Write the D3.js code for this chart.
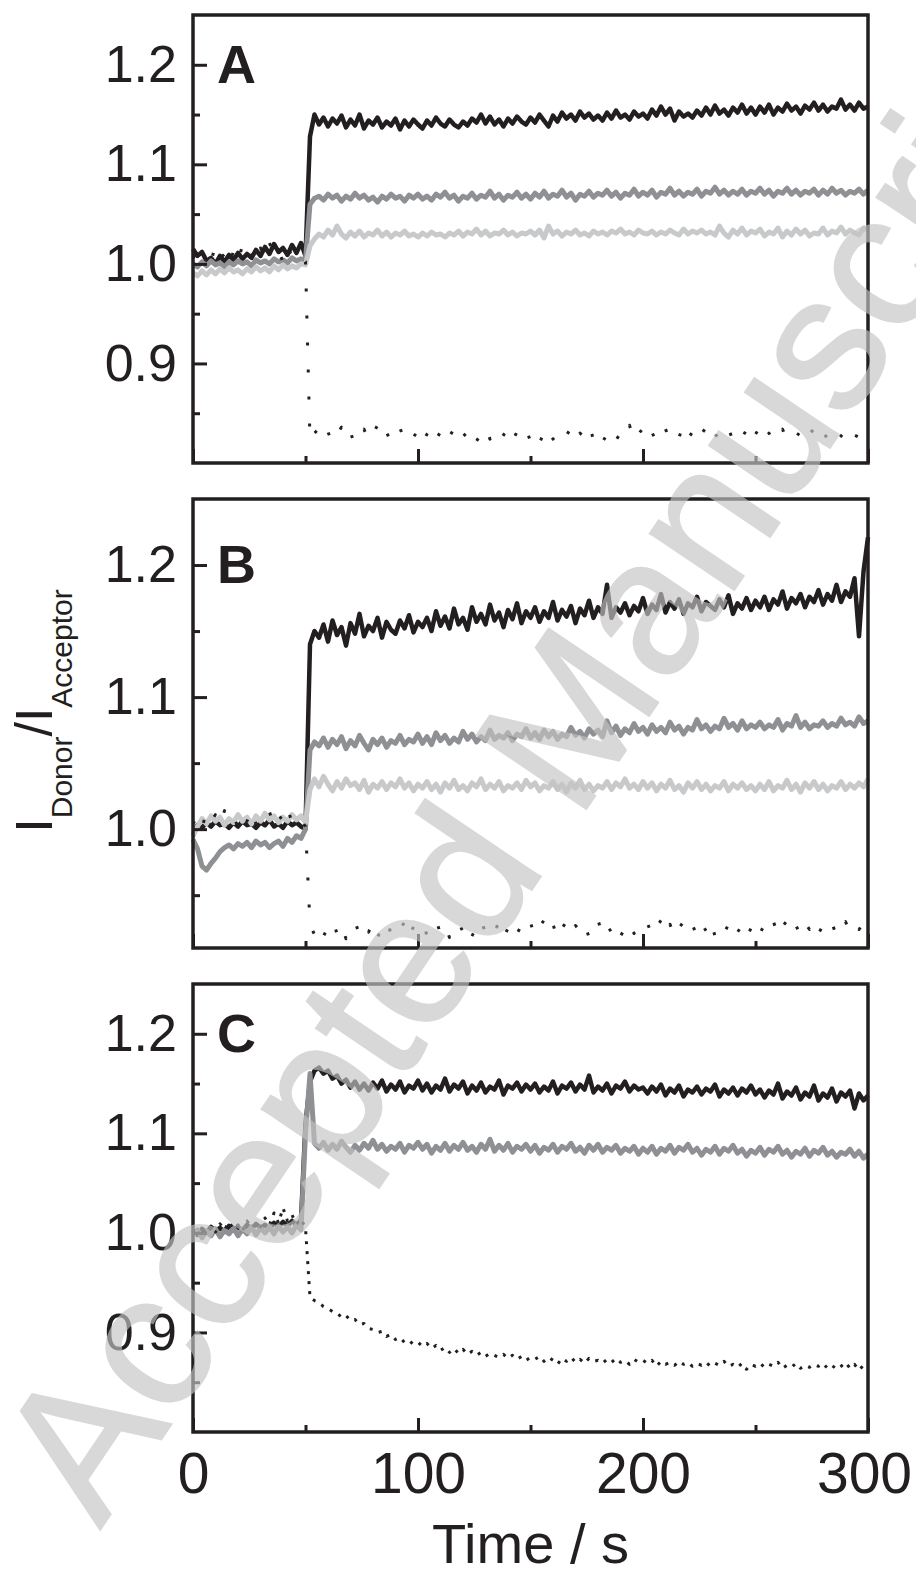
<!doctype html>
<html lang="en">
<head>
<meta charset="utf-8">
<script src="https://d3js.org/d3.v7.min.js"></script>
<title>FRET ratio traces</title>
<style>
  body { margin: 0; background: #fff; }
  svg text { font-family: "Liberation Sans", Arial, Helvetica, sans-serif; fill: #231f20; }
  .tick line { stroke: #231f20; stroke-width: 3; }
</style>
</head>
<body>
<div id="chart"></div>
<script>
// sampling grid, seconds
const time = d3.range(0, 301, 2);

// ---- panel A ----
const blackA = [1.015,1.008,1.012,1.003,1.006,1.000,1.008,1.002,1.009,1.004,1.011,1.005,1.010,1.006,1.014,1.008,1.017,1.010,1.020,1.012,1.016,1.009,1.019,1.011,1.021,
  1.008,1.128,1.150,
  1.140,1.147,1.138,1.146,1.141,1.149,1.137,1.145,1.139,1.150,1.136,1.144,1.140,1.147,1.137,1.143,1.139,1.146,1.135,1.144,1.138,1.145,1.140,
  1.136,1.144,1.139,1.147,1.141,1.138,1.145,1.140,1.137,1.143,1.139,1.146,1.142,1.150,1.141,1.148,1.140,1.145,1.138,1.146,1.141,1.148,1.143,1.140,1.147,
  1.142,1.150,1.144,1.138,1.149,1.143,1.152,1.146,1.150,1.144,1.153,1.147,1.151,1.145,1.149,1.144,1.152,1.146,1.154,1.147,1.150,1.145,1.153,1.148,1.151,
  1.146,1.155,1.149,1.158,1.150,1.156,1.144,1.153,1.148,1.151,1.147,1.154,1.149,1.157,1.150,1.159,1.151,1.155,1.149,1.157,1.152,1.160,1.151,1.157,1.150,
  1.158,1.152,1.160,1.150,1.157,1.153,1.161,1.154,1.158,1.151,1.159,1.155,1.162,1.154,1.160,1.153,1.158,1.156,1.165,1.155,1.160,1.154,1.162,1.156,1.158];
const grayA = [1.000,0.997,1.002,0.998,1.003,0.999,1.001,0.997,1.002,0.999,1.003,1.000,1.002,0.998,1.004,1.001,1.003,1.000,1.005,1.002,1.004,1.001,1.006,1.003,1.005,
  1.004,1.060,1.066,
  1.068,1.064,1.070,1.066,1.069,1.063,1.068,1.065,1.071,1.066,1.069,1.064,1.067,1.062,1.068,1.065,1.070,1.066,1.068,1.063,1.069,1.066,1.070,
  1.065,1.068,1.064,1.070,1.067,1.072,1.066,1.069,1.063,1.068,1.066,1.071,1.065,1.069,1.067,1.073,1.066,1.070,1.064,1.069,1.067,1.072,1.066,1.070,1.065,
  1.071,1.067,1.073,1.066,1.070,1.068,1.074,1.067,1.071,1.064,1.070,1.068,1.073,1.067,1.071,1.069,1.074,1.068,1.072,1.066,1.071,1.069,1.075,1.068,1.072,
  1.069,1.074,1.067,1.072,1.070,1.076,1.069,1.073,1.068,1.072,1.070,1.075,1.068,1.073,1.071,1.077,1.070,1.074,1.069,1.073,1.070,1.075,1.069,1.073,1.071,
  1.076,1.070,1.074,1.068,1.073,1.071,1.076,1.070,1.074,1.069,1.073,1.071,1.075,1.069,1.074,1.070,1.076,1.071,1.074,1.069,1.073,1.071,1.075,1.070,1.074];
const lightA = [0.991,0.988,0.993,0.989,0.994,0.990,0.995,0.991,0.996,0.992,0.994,0.990,0.995,0.992,0.997,0.993,0.996,0.992,0.998,0.994,0.999,0.995,0.998,0.996,1.000,
  0.999,1.018,1.025,
  1.030,1.027,1.034,1.029,1.038,1.030,1.026,1.032,1.028,1.033,1.027,1.031,1.029,1.034,1.028,1.032,1.027,1.031,1.029,1.033,1.028,1.030,1.027,
  1.031,1.028,1.032,1.029,1.030,1.027,1.031,1.029,1.033,1.028,1.032,1.030,1.035,1.029,1.033,1.028,1.031,1.030,1.034,1.029,1.032,1.028,1.031,1.030,1.033,
  1.029,1.034,1.026,1.038,1.030,1.033,1.028,1.032,1.030,1.034,1.029,1.031,1.028,1.033,1.030,1.032,1.029,1.033,1.031,1.035,1.030,1.032,1.029,1.034,1.031,
  1.030,1.033,1.029,1.032,1.030,1.034,1.031,1.029,1.035,1.030,1.033,1.031,1.034,1.030,1.032,1.029,1.038,1.031,1.027,1.034,1.030,1.036,1.029,1.033,1.031,
  1.035,1.028,1.032,1.030,1.036,1.027,1.033,1.029,1.035,1.030,1.034,1.028,1.031,1.030,1.036,1.029,1.033,1.031,1.037,1.030,1.034,1.031,1.029,1.036,1.034];
const dotA = [1.006,1.012,1.000,1.015,1.003,1.018,1.005,1.010,0.998,1.013,1.002,1.019,1.004,1.009,1.001,1.016,1.006,1.021,1.008,1.013,1.002,1.018,1.007,1.012,1.004,
  1.002,0.822,0.830,
  0.835,0.824,0.831,0.820,0.829,0.836,0.823,0.830,0.819,0.828,0.834,0.822,0.829,0.838,0.825,0.831,0.821,0.828,0.835,0.823,0.830,0.826,0.833,
  0.821,0.829,0.836,0.824,0.831,0.820,0.827,0.834,0.823,0.830,0.825,0.833,0.822,0.829,0.836,0.824,0.830,0.821,0.828,0.835,0.823,0.831,0.826,0.834,0.822,
  0.829,0.820,0.831,0.836,0.824,0.830,0.822,0.828,0.835,0.823,0.830,0.826,0.837,0.824,0.831,0.821,0.829,0.834,0.823,0.830,0.825,0.838,0.822,0.829,0.835,
  0.824,0.831,0.820,0.828,0.834,0.823,0.830,0.826,0.837,0.825,0.831,0.821,0.829,0.836,0.824,0.830,0.822,0.828,0.834,0.823,0.831,0.826,0.833,0.821,0.829,
  0.836,0.824,0.830,0.821,0.827,0.834,0.823,0.829,0.826,0.832,0.822,0.828,0.835,0.824,0.830,0.825,0.831,0.822,0.827,0.833,0.823,0.828,0.826,0.830,0.824];

// ---- panel B ----
const blackB = [0.995,1.003,1.001,1.005,1.002,1.006,1.003,1.004,1.001,1.005,1.002,1.006,1.003,1.004,1.001,1.005,1.003,1.007,1.002,1.004,1.001,1.006,1.003,1.005,1.002,
  1.000,1.140,1.150,
  1.145,1.155,1.142,1.158,1.147,1.153,1.139,1.156,1.148,1.163,1.146,1.154,1.150,1.160,1.145,1.157,1.151,1.148,1.158,1.152,1.162,1.149,1.157,
  1.153,1.160,1.150,1.165,1.154,1.161,1.152,1.167,1.155,1.160,1.151,1.168,1.157,1.163,1.155,1.170,1.158,1.164,1.153,1.166,1.159,1.171,1.156,1.165,1.160,
  1.168,1.157,1.165,1.160,1.172,1.158,1.166,1.161,1.169,1.156,1.167,1.162,1.173,1.160,1.168,1.163,1.185,1.160,1.168,1.164,1.171,1.162,1.169,1.165,1.175,
  1.163,1.170,1.166,1.178,1.164,1.172,1.167,1.174,1.163,1.171,1.168,1.176,1.165,1.172,1.169,1.166,1.174,1.168,1.177,1.163,1.171,1.167,1.175,1.166,1.173,
  1.168,1.176,1.166,1.174,1.170,1.180,1.167,1.175,1.171,1.178,1.168,1.176,1.172,1.181,1.170,1.178,1.173,1.185,1.172,1.180,1.176,1.190,1.146,1.195,1.221];
const grayB = [0.992,0.985,0.972,0.969,0.974,0.978,0.983,0.986,0.988,0.985,0.989,0.987,0.990,0.986,0.991,0.988,0.990,0.986,0.989,0.991,0.987,0.993,0.990,0.995,0.993,
  1.000,1.060,1.066,
  1.063,1.069,1.062,1.068,1.064,1.070,1.061,1.067,1.063,1.071,1.065,1.060,1.068,1.064,1.069,1.062,1.067,1.065,1.071,1.064,1.068,1.066,1.072,
  1.065,1.070,1.064,1.073,1.067,1.071,1.065,1.069,1.066,1.074,1.068,1.072,1.066,1.070,1.067,1.075,1.068,1.071,1.069,1.073,1.067,1.072,1.070,1.076,1.069,
  1.073,1.068,1.075,1.070,1.074,1.068,1.072,1.070,1.077,1.071,1.074,1.069,1.076,1.072,1.075,1.070,1.082,1.073,1.078,1.071,1.076,1.073,1.080,1.074,1.077,
  1.072,1.079,1.074,1.077,1.073,1.081,1.075,1.078,1.072,1.077,1.075,1.083,1.076,1.079,1.074,1.078,1.076,1.084,1.077,1.080,1.075,1.082,1.076,1.079,1.077,
  1.081,1.076,1.079,1.077,1.083,1.075,1.080,1.078,1.086,1.077,1.081,1.076,1.079,1.078,1.082,1.077,1.080,1.078,1.084,1.079,1.081,1.078,1.085,1.080,1.082];
const lightB = [0.995,1.002,1.008,1.004,1.010,1.006,1.009,1.003,1.008,1.005,1.011,1.006,1.009,1.004,1.010,1.006,1.012,1.007,1.010,1.005,1.009,1.006,1.011,1.007,1.010,
  1.005,1.030,1.038,
  1.032,1.040,1.034,1.029,1.036,1.031,1.038,1.033,1.035,1.030,1.037,1.028,1.034,1.031,1.036,1.030,1.035,1.032,1.038,1.031,1.035,1.029,1.034,
  1.031,1.036,1.030,1.034,1.028,1.035,1.031,1.037,1.030,1.033,1.029,1.035,1.032,1.038,1.030,1.034,1.031,1.036,1.029,1.033,1.031,1.035,1.030,1.037,1.032,
  1.035,1.029,1.033,1.031,1.036,1.030,1.034,1.028,1.035,1.031,1.037,1.030,1.034,1.029,1.033,1.031,1.036,1.030,1.035,1.032,1.038,1.031,1.034,1.030,1.036,
  1.031,1.035,1.029,1.034,1.031,1.037,1.030,1.033,1.028,1.035,1.031,1.036,1.030,1.034,1.029,1.033,1.031,1.036,1.029,1.034,1.031,1.035,1.030,1.033,1.029,
  1.034,1.030,1.036,1.029,1.033,1.031,1.037,1.030,1.034,1.028,1.035,1.031,1.036,1.030,1.034,1.029,1.033,1.031,1.036,1.030,1.034,1.031,1.035,1.032,1.038];
const dotB = [1.004,1.010,1.001,1.013,1.006,1.011,1.003,1.014,1.005,1.009,1.002,1.012,1.006,1.015,1.004,1.010,1.007,1.013,1.003,1.011,1.006,1.016,1.005,1.010,1.007,
  1.002,0.928,0.920,
  0.927,0.919,0.926,0.931,0.921,0.928,0.917,0.924,0.930,0.920,0.927,0.922,0.929,0.918,0.925,0.931,0.921,0.927,0.923,0.930,0.919,0.926,0.922,
  0.928,0.920,0.926,0.931,0.921,0.927,0.918,0.925,0.930,0.922,0.928,0.919,0.926,0.932,0.921,0.927,0.923,0.929,0.918,0.925,0.930,0.921,0.927,0.922,0.929,
  0.919,0.926,0.931,0.922,0.928,0.917,0.925,0.930,0.921,0.927,0.923,0.929,0.918,0.926,0.931,0.920,0.927,0.922,0.928,0.919,0.925,0.930,0.921,0.927,0.924,
  0.929,0.919,0.926,0.931,0.921,0.928,0.918,0.925,0.930,0.922,0.927,0.920,0.929,0.923,0.931,0.919,0.926,0.921,0.928,0.932,0.922,0.927,0.918,0.925,0.930,
  0.921,0.928,0.923,0.930,0.919,0.926,0.931,0.922,0.927,0.920,0.929,0.924,0.930,0.921,0.927,0.923,0.929,0.919,0.926,0.930,0.922,0.928,0.924,0.929,0.921];

// ---- panel C ----
const blackC = [1.003,0.998,1.004,1.000,1.006,1.002,1.005,1.001,1.007,1.003,1.006,1.002,1.008,1.004,1.009,1.005,1.008,1.004,1.010,1.006,1.011,1.007,1.012,1.008,1.013,
  1.110,1.152,1.163,
  1.166,1.160,1.163,1.155,1.158,1.150,1.154,1.146,1.152,1.144,1.150,1.143,1.151,1.145,1.153,1.142,1.149,1.144,1.152,1.141,1.148,1.145,1.153,
  1.143,1.150,1.141,1.148,1.144,1.155,1.142,1.149,1.145,1.152,1.140,1.148,1.143,1.151,1.141,1.147,1.144,1.153,1.139,1.148,1.145,1.151,1.142,1.149,1.144,
  1.150,1.141,1.147,1.143,1.152,1.140,1.148,1.145,1.151,1.142,1.149,1.144,1.158,1.141,1.147,1.143,1.150,1.140,1.148,1.145,1.152,1.142,1.148,1.144,1.146,
  1.140,1.147,1.142,1.149,1.138,1.145,1.141,1.148,1.137,1.144,1.141,1.147,1.139,1.145,1.142,1.149,1.137,1.144,1.140,1.146,1.138,1.145,1.141,1.148,1.139,
  1.144,1.136,1.143,1.139,1.150,1.135,1.142,1.138,1.146,1.134,1.141,1.137,1.148,1.133,1.140,1.136,1.145,1.132,1.141,1.137,1.143,1.125,1.140,1.133,1.138];
const grayC = [0.998,1.003,0.995,1.002,0.997,1.004,0.996,1.003,0.999,1.005,0.997,1.004,0.999,1.006,0.998,1.005,1.000,1.006,0.999,1.007,1.001,1.006,1.000,1.008,1.003,
  1.100,1.160,1.090,
  1.085,1.091,1.083,1.089,1.084,1.092,1.086,1.081,1.088,1.083,1.090,1.085,1.093,1.084,1.089,1.082,1.087,1.084,1.090,1.081,1.088,1.085,1.091,
  1.084,1.089,1.080,1.087,1.083,1.090,1.082,1.088,1.084,1.091,1.083,1.087,1.081,1.089,1.084,1.094,1.082,1.088,1.083,1.090,1.081,1.087,1.084,1.089,1.082,
  1.088,1.080,1.086,1.083,1.089,1.081,1.087,1.084,1.090,1.082,1.086,1.080,1.088,1.083,1.089,1.081,1.086,1.083,1.088,1.080,1.085,1.082,1.087,1.079,1.085,
  1.081,1.087,1.079,1.085,1.082,1.088,1.080,1.086,1.083,1.089,1.081,1.085,1.078,1.084,1.081,1.087,1.079,1.085,1.082,1.088,1.080,1.084,1.077,1.083,1.080,
  1.086,1.078,1.084,1.081,1.087,1.079,1.083,1.076,1.082,1.079,1.085,1.077,1.083,1.080,1.086,1.078,1.082,1.076,1.081,1.079,1.084,1.077,1.082,1.075,1.079];
const dotC = [1.002,0.996,1.005,0.999,1.007,1.001,1.009,1.003,1.011,1.004,1.008,1.002,1.012,1.005,1.010,1.006,1.015,1.008,1.020,1.010,1.025,1.012,1.018,1.009,1.014,
  1.005,0.935,0.932,
  0.930,0.926,0.924,0.921,0.920,0.915,0.917,0.912,0.913,0.908,0.909,0.904,0.903,0.900,0.901,0.896,0.898,0.893,0.895,0.890,0.892,0.888,0.890,
  0.886,0.889,0.884,0.887,0.882,0.885,0.880,0.884,0.879,0.883,0.878,0.881,0.877,0.880,0.876,0.879,0.877,0.875,0.878,0.874,0.877,0.873,0.876,0.872,0.875,
  0.873,0.876,0.871,0.875,0.872,0.868,0.874,0.871,0.875,0.870,0.873,0.869,0.874,0.871,0.872,0.869,0.873,0.870,0.874,0.870,0.872,0.868,0.873,0.870,0.872,
  0.869,0.872,0.866,0.871,0.868,0.870,0.867,0.871,0.868,0.870,0.866,0.869,0.867,0.870,0.866,0.869,0.867,0.871,0.866,0.868,0.865,0.869,0.863,0.868,0.866,
  0.869,0.865,0.868,0.866,0.870,0.864,0.867,0.865,0.869,0.864,0.867,0.865,0.868,0.866,0.869,0.864,0.867,0.863,0.866,0.870,0.864,0.868,0.862,0.867,0.865];

const panelNames = ['A', 'B', 'C'];
const panelSeries = [[blackA, grayA, lightA, dotA], [blackB, grayB, lightB, dotB], [blackC, grayC, null, dotC]];
const yDomains = [[0.8, 1.25], [0.91, 1.25], [0.8, 1.25]];
const yMajor = [0.9, 1.0, 1.1, 1.2];
const yMinor = [0.85, 0.95, 1.05, 1.15];
const xMajor = [0, 100, 200, 300];
const xMinor = [50, 150, 250];

// layout
const W = 916, H = 1576;
const left = 193, right = 868;
const tops = [15, 499, 984];
const bottoms = [463, 948, 1432];
const ink = '#231f20';
const styles = [
  { color: ink, width: 4.5 },
  { color: '#8e9093', width: 5 },
  { color: '#c8c9cb', width: 5 },
  { color: ink, width: 3, dash: true }
];
const dotDash = ['3,24', '3,24', '3,7'];

const svg = d3.select('#chart').append('svg')
  .attr('width', W).attr('height', H);

const x = d3.scaleLinear().domain([0, 300]).range([left, right]);

panelNames.forEach((name, i) => {
  const y = d3.scaleLinear().domain(yDomains[i]).range([bottoms[i], tops[i]]);
  const inDomain = v => v >= yDomains[i][0] && v <= yDomains[i][1];
  const g = svg.append('g');

  const line = d3.line()
    .x((d, j) => x(time[j]))
    .y(d => y(d));

  panelSeries[i].forEach((vals, k) => {
    if (!vals) return;
    const s = styles[k];
    g.append('path')
      .datum(vals)
      .attr('d', line)
      .attr('fill', 'none')
      .attr('stroke', s.color)
      .attr('stroke-width', s.width)
      .attr('stroke-linejoin', 'round')
      .attr('stroke-dasharray', s.dash ? dotDash[i] : null);
  });

  // y ticks (inward)
  const ya = g.append('g').attr('transform', `translate(${left},0)`)
    .call(d3.axisLeft(y).tickValues(yMajor.filter(inDomain)).tickSize(-14).tickPadding(16).tickFormat(d3.format('.1f')));
  ya.selectAll('text').attr('font-size', 52);
  g.append('g').attr('transform', `translate(${left},0)`)
    .call(d3.axisLeft(y).tickValues(yMinor.filter(inDomain)).tickSize(-7).tickFormat(''));

  // x ticks (inward), labels only on the bottom panel
  const xa = g.append('g').attr('transform', `translate(0,${bottoms[i]})`)
    .call(d3.axisBottom(x).tickValues(xMajor).tickSize(-14).tickPadding(21).tickFormat(i === 2 ? d3.format('d') : ''));
  xa.selectAll('text').attr('font-size', 57)
    .attr('dx', d => d === 300 ? -4 : 0);
  g.append('g').attr('transform', `translate(0,${bottoms[i]})`)
    .call(d3.axisBottom(x).tickValues(xMinor).tickSize(-7).tickFormat(''));

  g.selectAll('.domain').remove();

  g.append('rect')
    .attr('x', left).attr('y', tops[i])
    .attr('width', right - left).attr('height', bottoms[i] - tops[i])
    .attr('fill', 'none').attr('stroke', ink).attr('stroke-width', 3.5);

  g.append('text')
    .attr('x', left + 24).attr('y', y(1.2) + 18)
    .attr('font-size', 54).attr('font-weight', 'bold')
    .text(name);
});

// axis titles
svg.append('text')
  .attr('x', (left + right) / 2).attr('y', 1563)
  .attr('text-anchor', 'middle').attr('font-size', 56)
  .text('Time / s');

const yl = svg.append('text')
  .attr('transform', 'translate(52,711) rotate(-90)')
  .attr('text-anchor', 'middle').attr('font-size', 52);
yl.append('tspan').text('I');
yl.append('tspan').attr('font-size', 30).attr('dy', 20).text('Donor');
yl.append('tspan').attr('dy', -20).text('/I');
yl.append('tspan').attr('font-size', 30).attr('dy', 20).text('Acceptor');

// watermark
svg.append('text')
  .attr('transform', 'translate(100,1530) rotate(-56)')
  .attr('font-size', 192)
  .style('fill', '#c4c4c4')
  .style('stroke', '#c4c4c4')
  .attr('stroke-width', 2)
  .attr('opacity', 0.65)
  .text('Accepted Manuscript');
</script>
</body>
</html>
